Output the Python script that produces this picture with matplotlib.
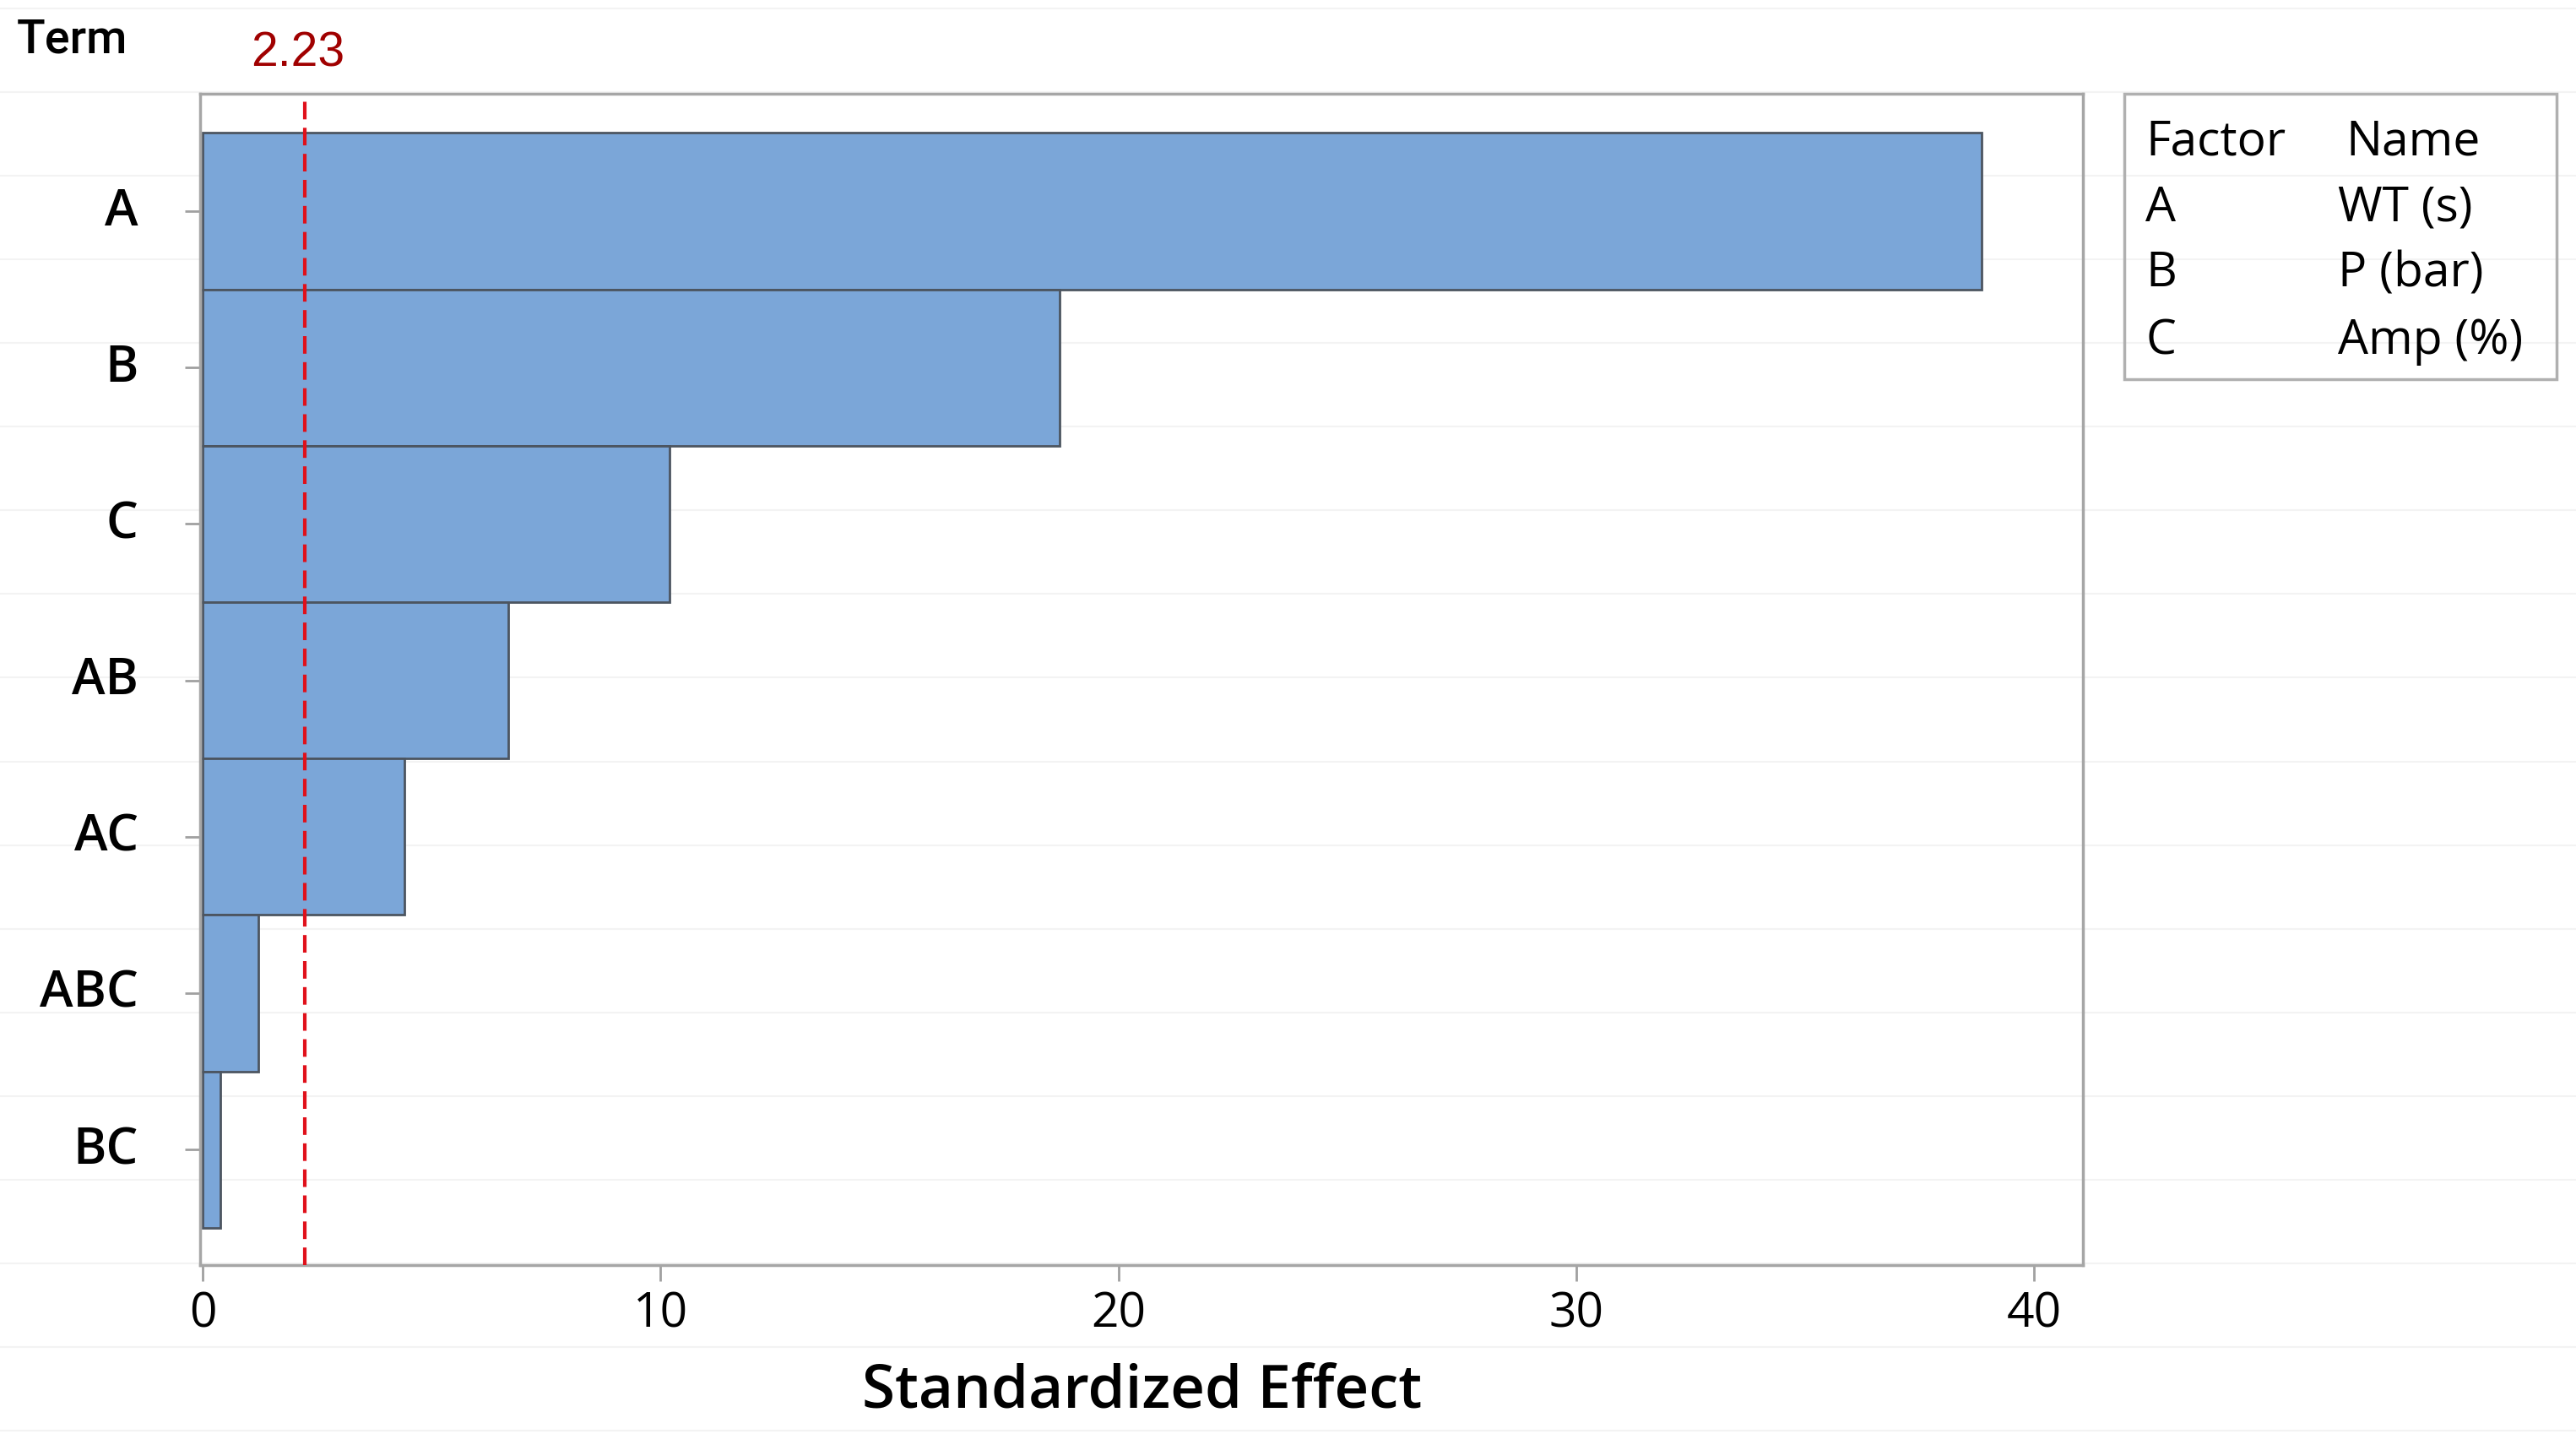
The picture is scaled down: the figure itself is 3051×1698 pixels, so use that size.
import matplotlib
matplotlib.use("Agg")
import matplotlib.pyplot as plt
from matplotlib.lines import Line2D
import matplotlib.transforms as mtransforms

# Pareto chart of standardized effects
terms = ['A', 'B', 'C', 'AB', 'AC', 'ABC', 'BC']
effects = [38.85, 18.72, 10.19, 6.67, 4.41, 1.22, 0.39]
ref_value = 2.23
xticks = [0, 10, 20, 30, 40]

factors = ['A', 'B', 'C']
factor_names = ['WT (s)', 'P (bar)', 'Amp (%)']

fig = plt.figure(figsize=(30.51, 16.98), dpi=100)
fig.patch.set_facecolor('white')

# faint scan lines seen across the picture
H = 1698.0
for k in range(-1, 17):
    yy = 1 - (109 + 99.07 * k) / H
    if 0 < yy < 1:
        fig.add_artist(Line2D([0, 1], [yy, yy], transform=fig.transFigure,
                              color='#F3F3F3', lw=1.5, zorder=0))

ax = fig.add_axes([0.0778, 0.1177, 0.8087 - 0.0778, 0.9346 - 0.1177])
ax.set_facecolor('none')

pos = list(range(len(terms)))
ax.barh(pos, effects, height=1.0, color='#7BA6D8', edgecolor='#4C5560',
        linewidth=2.0, zorder=2)
ax.axvline(ref_value, color='#E0101A', lw=3.0, ls=(0, (5, 2.4)), zorder=3)

ax.set_xlim(-0.05, 41.07)
ax.set_ylim(6.74, -0.75)

ax.set_yticks(pos)
ax.set_yticklabels(terms, fontfamily='Open Sans', fontweight='semibold',
                   fontsize=43)
ax.set_xticks(xticks)
ax.set_xticklabels([str(t) for t in xticks], fontfamily='Open Sans',
                   fontsize=41)
ax.tick_params(axis='y', length=13, width=2, color='#A0A0A0', pad=40)
ax.tick_params(axis='x', length=14, width=2, color='#A0A0A0', pad=8)
# labels sit slightly above their ticks in the original
offset = mtransforms.ScaledTranslation(0, 4 / 72, fig.dpi_scale_trans)
for lab in ax.get_yticklabels():
    lab.set_transform(lab.get_transform() + offset)

for s in ax.spines.values():
    s.set_color('#A6A6A6')
    s.set_linewidth(2.5)

ax.set_xlabel('Standardized Effect', fontfamily='Open Sans',
              fontweight='semibold', fontsize=51, labelpad=20)

fig.text(0.0064, 0.9725, 'Term', fontfamily='Roboto', fontweight='medium',
         fontsize=40, va='center', ha='left', color='black')

trans = mtransforms.blended_transform_factory(ax.transData, ax.transAxes)
ax.text(ref_value - 0.15, 1.034, '%.2f' % ref_value, transform=trans,
        ha='center', va='center', fontfamily='Liberation Sans', fontsize=41,
        color='#A00000')

# factor table box
lx0, lx1, ly0, ly1 = 0.8246, 0.9923, 0.7353, 0.9346
fig.add_artist(plt.Rectangle((lx0, ly0), lx1 - lx0, ly1 - ly0,
                             transform=fig.transFigure, fill=False,
                             edgecolor='#B0B0B0', lw=2.5))
rows_y = [0.9003, 0.8544, 0.8086, 0.7615]
fig.text(0.8329, rows_y[0], 'Factor', fontfamily='Open Sans', fontsize=41,
         va='center', ha='left')
fig.text(0.9107, rows_y[0], 'Name', fontfamily='Open Sans', fontsize=41,
         va='center', ha='left')
for f, n, yy in zip(factors, factor_names, rows_y[1:]):
    fig.text(0.8329, yy, f, fontfamily='Open Sans', fontsize=41,
             va='center', ha='left')
    fig.text(0.9075, yy, n, fontfamily='Open Sans', fontsize=41,
             va='center', ha='left')

fig.savefig('out.png', dpi=100)
